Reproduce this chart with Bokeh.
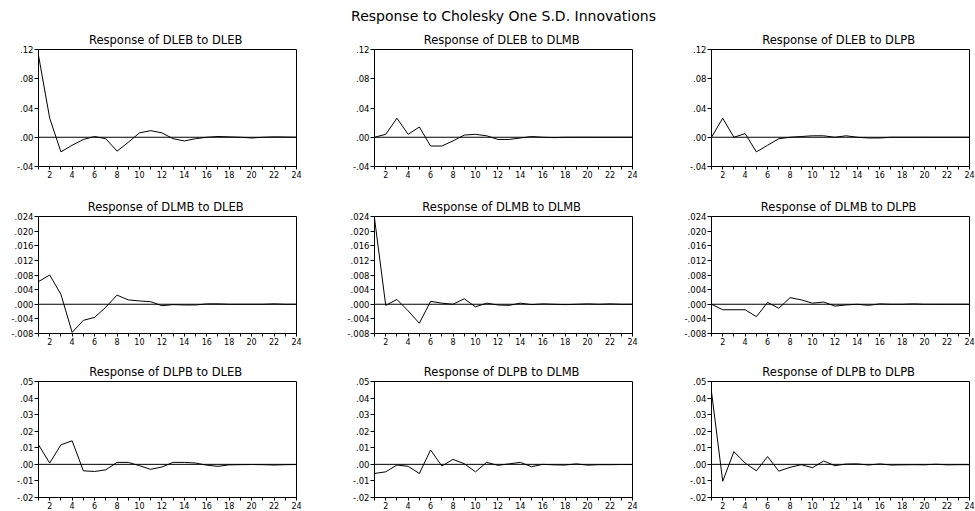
from bokeh.plotting import figure
from bokeh.layouts import column, row
from bokeh.models import FixedTicker, CustomJSTickFormatter, Span, Title, Range1d
from bokeh.embed import file_html
from bokeh.resources import INLINE

FONT = "DejaVu Sans"

main_title = "Response to Cholesky One S.D. Innovations"
variables = ["DLEB", "DLMB", "DLPB"]
periods = list(range(1, 25))
x_major = list(range(2, 25, 2))
x_minor = list(range(1, 25, 2))

# Response of DLEB to ...
dleb_to_dleb = [0.112, 0.026, -0.020, -0.011, -0.003, 0.001, -0.002, -0.019, -0.007, 0.006,
                0.009, 0.006, -0.002, -0.005, -0.002, 0.000, 0.001, 0.0005, 0.000, -0.001,
                0.000, 0.0005, 0.0003, 0.000]
dleb_to_dlmb = [0.000, 0.004, 0.026, 0.004, 0.014, -0.012, -0.012, -0.005, 0.003, 0.004,
                0.002, -0.003, -0.003, -0.001, 0.001, 0.000, -0.0005, 0.000, 0.000, 0.000,
                0.000, 0.000, 0.000, 0.000]
dleb_to_dlpb = [0.000, 0.026, 0.000, 0.005, -0.020, -0.011, -0.002, 0.000, 0.001, 0.002,
                0.002, 0.000, 0.002, 0.000, -0.001, -0.001, 0.000, 0.000, 0.000, 0.000,
                0.000, 0.000, 0.000, 0.000]
# Response of DLMB to ...
dlmb_to_dleb = [0.0062, 0.0080, 0.0027, -0.0077, -0.0044, -0.0036, -0.0008, 0.0025, 0.0012, 0.0009,
                0.0007, -0.0004, -0.0001, -0.0002, -0.0002, 0.0001, 0.0001, 0.0000, 0.0000, 0.0000,
                0.0000, 0.0001, 0.0000, 0.0000]
dlmb_to_dlmb = [0.0235, -0.0003, 0.0013, -0.0018, -0.0052, 0.0008, 0.0003, 0.0000, 0.0015, -0.0007,
                0.0003, -0.0002, -0.0003, 0.0003, -0.0001, 0.0001, 0.0000, -0.0001, 0.0000, 0.0001,
                0.0000, 0.0001, 0.0000, 0.0000]
dlmb_to_dlpb = [0.0000, -0.0015, -0.0015, -0.0015, -0.0034, 0.0005, -0.0011, 0.0018, 0.0012, 0.0003,
                0.0006, -0.0005, -0.0002, 0.0000, -0.0003, 0.0001, 0.0000, 0.0000, 0.0001, 0.0000,
                0.0000, 0.0000, 0.0000, 0.0000]
# Response of DLPB to ...
dlpb_to_dleb = [0.0118, 0.0008, 0.0118, 0.0142, -0.0039, -0.0043, -0.0033, 0.0012, 0.0012, -0.0008,
                -0.0030, -0.0016, 0.0012, 0.0012, 0.0008, -0.0005, -0.0012, -0.0003, -0.0002, -0.0001,
                -0.0002, -0.0004, -0.0002, -0.0001]
dlpb_to_dlmb = [-0.0055, -0.0045, -0.0004, -0.0012, -0.0055, 0.0087, -0.0010, 0.0030, 0.0004, -0.0045,
                0.0012, -0.0006, 0.0003, 0.0012, -0.0014, 0.0000, -0.0003, -0.0004, 0.0003, -0.0005,
                -0.0002, -0.0002, -0.0001, -0.0001]
dlpb_to_dlpb = [0.0437, -0.0102, 0.0077, 0.0008, -0.0039, 0.0047, -0.0041, -0.0018, -0.0002, -0.0020,
                0.0020, -0.0008, 0.0002, 0.0003, -0.0004, 0.0003, -0.0004, -0.0003, -0.0002, -0.0003,
                0.0001, -0.0003, -0.0002, -0.0002]

responses = [
    [dleb_to_dleb, dleb_to_dlmb, dleb_to_dlpb],
    [dlmb_to_dleb, dlmb_to_dlmb, dlmb_to_dlpb],
    [dlpb_to_dleb, dlpb_to_dlmb, dlpb_to_dlpb],
]

row_ylims = [(-0.04, 0.12), (-0.008, 0.024), (-0.02, 0.05)]
row_yticks = [
    [-0.04, 0.00, 0.04, 0.08, 0.12],
    [-0.008, -0.004, 0.000, 0.004, 0.008, 0.012, 0.016, 0.020, 0.024],
    [-0.02, -0.01, 0.00, 0.01, 0.02, 0.03, 0.04, 0.05],
]
row_ylabels = [
    ["-.04", ".00", ".04", ".08", ".12"],
    ["-.008", "-.004", ".000", ".004", ".008", ".012", ".016", ".020", ".024"],
    ["-.02", "-.01", ".00", ".01", ".02", ".03", ".04", ".05"],
]

# layout geometry (pixels)
FRAME_W, FRAME_H = 258, 117
col_borders = [(38, 40), (38, 41), (38, 6)]
row_borders = [(49, 17), (33, 16), (32, 13)]


def make_title(text, size, standoff):
    return Title(text=text, align="center", text_font=FONT, text_font_size=size,
                 text_font_style="normal", text_color="black", standoff=standoff)


rows = []
for r in range(3):
    figs = []
    for c in range(3):
        bl, br = col_borders[c]
        bt, bb = row_borders[r]
        lo, hi = row_ylims[r]
        p = figure(width=FRAME_W + bl + br, height=FRAME_H + bt + bb,
                   min_border_left=bl, min_border_right=br,
                   min_border_top=bt, min_border_bottom=bb,
                   x_range=Range1d(1, 24), y_range=Range1d(lo, hi),
                   output_backend="svg", toolbar_location=None, tools="",
                   title=None)
        p.add_layout(make_title("Response of  %s to %s" % (variables[r], variables[c]),
                                "11.5px", 6), "above")
        if r == 0 and c == 1:
            p.add_layout(make_title(main_title, "14px", 7), "above")
        p.background_fill_color = "white"
        p.border_fill_color = "white"
        p.outline_line_color = "black"
        p.outline_line_width = 1
        p.outline_line_alpha = 1
        p.xgrid.visible = False
        p.ygrid.visible = False

        xa = p.xaxis[0]
        xa.ticker = FixedTicker(ticks=x_major, minor_ticks=x_minor)
        xa.major_tick_in = 0
        xa.major_tick_out = 3
        xa.minor_tick_in = 0
        xa.minor_tick_out = 3
        xa.major_label_standoff = 1
        xa.major_label_text_font = FONT
        xa.major_label_text_font_size = "8px"
        xa.major_label_text_color = "black"
        xa.axis_line_color = "black"
        xa.major_tick_line_color = "black"
        xa.minor_tick_line_color = "black"

        ya = p.yaxis[0]
        ya.ticker = FixedTicker(ticks=row_yticks[r], minor_ticks=[])
        ya.formatter = CustomJSTickFormatter(
            args=dict(tick_vals=row_yticks[r], tick_texts=row_ylabels[r]),
            code="""
            let best = 0;
            for (let i = 0; i < tick_vals.length; i++) {
                if (Math.abs(tick_vals[i] - tick) < Math.abs(tick_vals[best] - tick)) best = i;
            }
            return tick_texts[best];
            """)
        ya.major_tick_in = 0
        ya.major_tick_out = 4
        ya.minor_tick_in = 0
        ya.minor_tick_out = 0
        ya.major_label_standoff = 1
        ya.major_label_text_font = FONT
        ya.major_label_text_font_size = "8.5px"
        ya.major_label_text_color = "black"
        ya.axis_line_color = "black"
        ya.major_tick_line_color = "black"

        p.add_layout(Span(location=0, dimension="width", line_color="black", line_width=1))
        p.line(periods, responses[r][c], line_color="black", line_width=1)
        figs.append(p)
    rows.append(row(*figs, spacing=0))

layout = column(*rows, spacing=0)

open("out.html", "w").write(file_html(layout, INLINE))
